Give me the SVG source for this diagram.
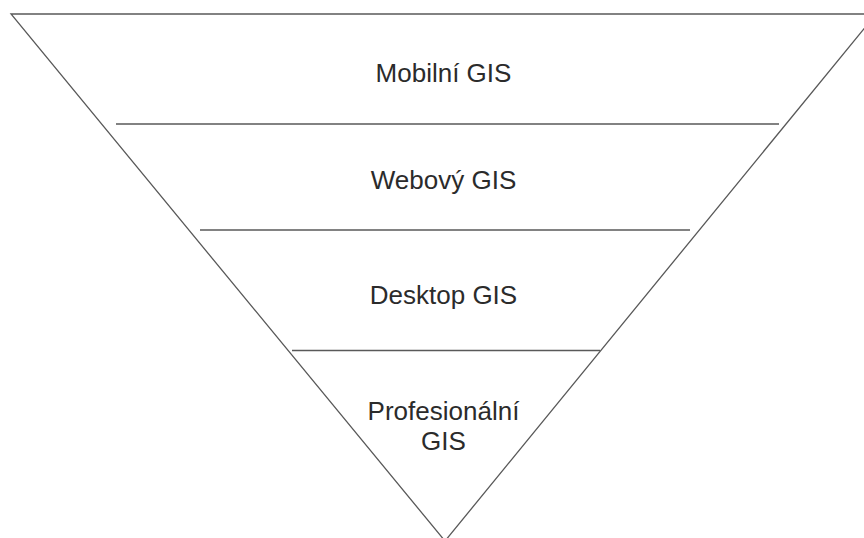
<svg xmlns="http://www.w3.org/2000/svg" width="864" height="538" viewBox="0 0 864 538">
<style>
.ln{stroke:#595959;stroke-width:1.3;fill:none}
.t{font-family:"Liberation Sans",Arial,sans-serif;font-size:26px;fill:#2b2b2b;text-anchor:middle}
</style>
<rect width="864" height="538" fill="#fff"/>
<g id="triangle">
<polygon class="ln" points="11,14 876,14 445,541"/>
</g>
<g id="connectors">
<line class="ln" x1="116" y1="124" x2="779" y2="124"/>
<line class="ln" x1="200" y1="230" x2="690" y2="230"/>
<line class="ln" x1="292" y1="350.5" x2="600" y2="350.5"/>
</g>
<g id="mobilni"><text class="t" x="443.5" y="81.5">Mobilní GIS</text></g>
<g id="webovy"><text class="t" x="443.5" y="188.5">Webový GIS</text></g>
<g id="desktop"><text class="t" x="443.5" y="303.5">Desktop GIS</text></g>
<g id="profesionalni"><text class="t" x="443.5" y="419.5">Profesionální</text><text class="t" x="443.5" y="449.5">GIS</text></g>
</svg>
